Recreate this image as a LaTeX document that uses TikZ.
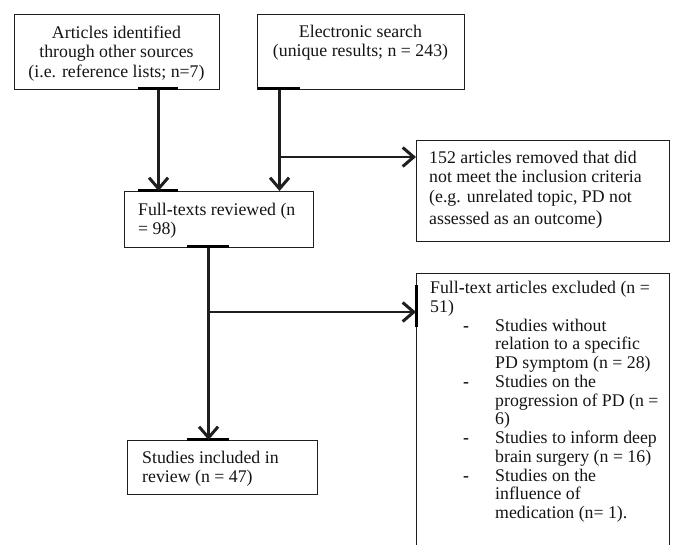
\documentclass[tikz,border=0pt]{standalone}
\usepackage{fontspec}
\setmainfont{Liberation Serif}
\usetikzlibrary{arrows.meta}
\newcommand\xdash{\hspace*{33pt}\makebox[32pt][l]{\textbf{-}}}
\newcommand\xind{\hspace*{65pt}}
\begin{document}
\begin{tikzpicture}[x=1pt,y=-1pt,
  frame/.style={draw=black!88, line width=1.1pt, inner sep=0pt, anchor=north west},
  txt/.style={inner sep=0pt, text=black!92, font=\fontsize{17.8}{19.4}\selectfont},
  flow/.style={line width=2.4pt, draw=black!88},
  side/.style={line width=2pt, draw=black!88},
  tip/.style={-{Straight Barb[length=11pt,width=19pt,line width=3pt]}},
  stub/.style={line width=3pt, draw=black}]
\useasboundingbox (0,0) rectangle (673,545);
\clip (0,0) rectangle (673,545);

% boxes
\node[frame, minimum width=205pt, minimum height=75pt] (b1) at (14,14) {};
\node[txt, anchor=north, align=center] (b1t) at (116.5,25.8)
  {Articles identified\\through other sources\\(i.e. reference lists; n=7)};

\node[frame, minimum width=207pt, minimum height=75pt] (b2) at (257,14) {};
\node[txt, anchor=north, align=center] (b2t) at (360.5,25)
  {Electronic search\\(unique results; n = 243)};

\node[frame, minimum width=189pt, minimum height=56pt] (fr) at (124,191) {};
\node[txt, anchor=north west, align=left] (frt) at (138,203)
  {Full\textbf{-}texts reviewed (n\\= 98)};

\node[frame, minimum width=253pt, minimum height=101pt] (rm) at (416,140) {};
\node[txt, anchor=north west, align=left] (rmt) at (429,151)
  {152 articles removed that did\\not meet the inclusion criteria\\(e.g. unrelated topic, PD not\\[3pt]assessed as an outcome{\fontsize{20}{20}\selectfont)}};

\node[frame, minimum width=253pt, minimum height=300pt] (ex) at (416,273) {};
\node[txt, anchor=north west, align=left, font=\fontsize{17.8}{18.75}\selectfont] (ext) at (430,281)
  {Full\textbf{-}text articles excluded (n =\\
   51)\\
   \xdash Studies without\\
   \xind relation to a specific\\
   \xind PD symptom (n = 28)\\
   \xdash Studies on the\\
   \xind progression of PD (n =\\
   \xind 6)\\
   \xdash Studies to inform deep\\
   \xind brain surgery (n = 16)\\
   \xdash Studies on the\\
   \xind influence of\\
   \xind medication (n= 1).};

\node[frame, minimum width=190pt, minimum height=54pt] (st) at (127,440) {};
\node[txt, anchor=north west, align=left] (stt) at (142,451)
  {Studies included in\\review (n = 47)};

% stubs (thick border segments)
\draw[stub] (138,89) -- (178,89);
\draw[stub] (258,89) -- (300,89);
\draw[stub] (138,191) -- (178,191);
\draw[stub] (187,247) -- (229,247);
\draw[stub] (187,440) -- (229,440);
\draw[stub] (416,285) -- (416,327);

% connectors
\draw[flow, tip] ([xshift=41.5pt]b1.south) -- ([xshift=41.5pt]b1.south |- fr.north);
\draw[flow, tip] ([xshift=-81.5pt]b2.south) -- ([xshift=-81.5pt]b2.south |- fr.north);
\coordinate (j2) at (279,157);
\draw[side, tip] (j2) -- (j2 -| rm.west);
\draw[flow, tip] ([xshift=-10.5pt]fr.south) -- ([xshift=-10.5pt]fr.south |- st.north);
\coordinate (j3) at (208,312);
\draw[side, tip] (j3) -- (j3 -| ex.west);
\end{tikzpicture}
\end{document}
